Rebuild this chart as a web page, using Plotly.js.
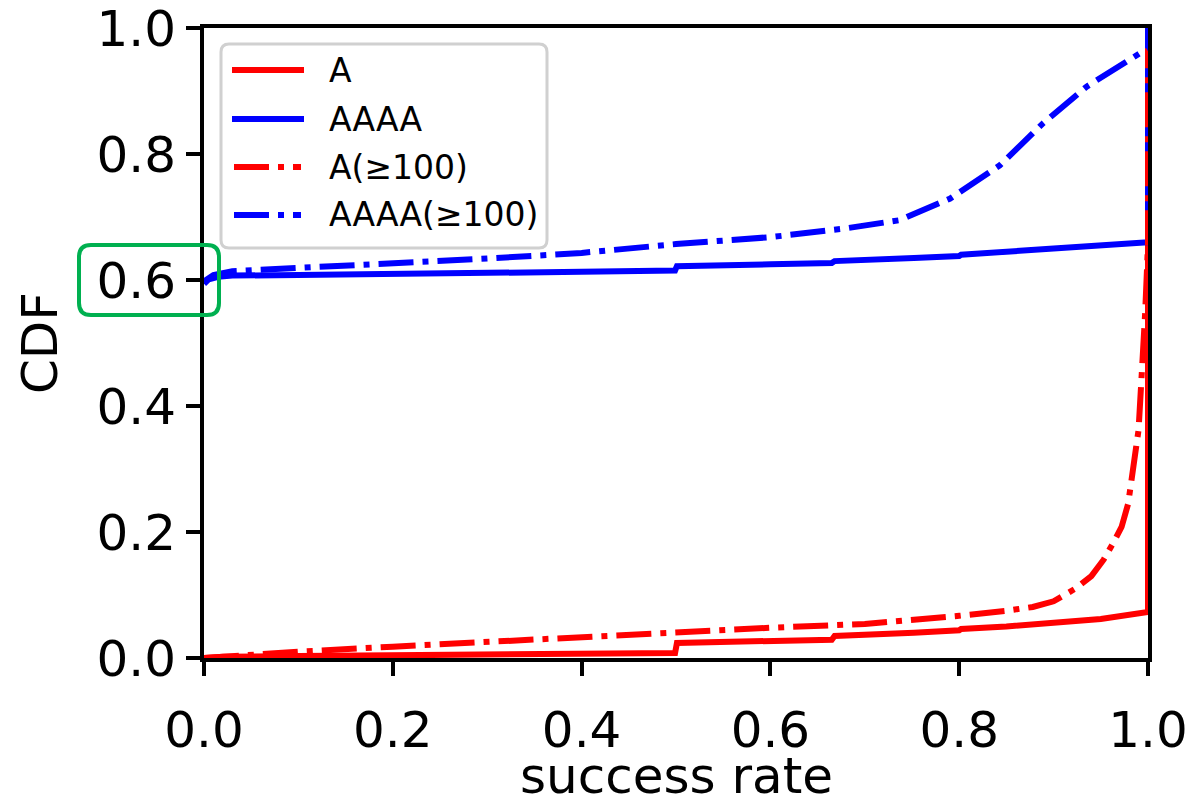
<!DOCTYPE html>
<html>
<head>
<meta charset="utf-8">
<script src="https://cdn.plot.ly/plotly-3.0.1.min.js"></script>
<style>html,body{margin:0;padding:0;background:#fff;}#chart{width:1195px;height:806px;}</style>
</head>
<body>
<div id="chart"></div>
<script>
// ---- data ----
var seriesNames = ["A", "AAAA", "A(\u2265100)", "AAAA(\u2265100)"];

var aX = [0, 0.02, 0.1, 0.2, 0.332, 0.334, 0.4, 0.499, 0.501, 0.6, 0.665, 0.668, 0.75, 0.752, 0.8, 0.802, 0.85, 0.9, 0.95, 1.0, 1.0];
var aY = [0.0, 0.002, 0.003, 0.004, 0.004, 0.006, 0.007, 0.008, 0.024, 0.027, 0.029, 0.035, 0.038, 0.040, 0.044, 0.046, 0.050, 0.055, 0.062, 0.073, 1.0];

var aaaaX = [0, 0.005, 0.015, 0.03, 0.1, 0.2, 0.332, 0.334, 0.4, 0.499, 0.501, 0.6, 0.665, 0.668, 0.75, 0.752, 0.8, 0.802, 0.9, 1.0, 1.0];
var aaaaY = [0.594, 0.601, 0.605, 0.607, 0.608, 0.609, 0.611, 0.612, 0.613, 0.615, 0.622, 0.625, 0.627, 0.630, 0.633, 0.635, 0.638, 0.640, 0.650, 0.660, 1.0];

var a100X = [0, 0.05, 0.1, 0.2, 0.3, 0.4, 0.5, 0.6, 0.7, 0.737, 0.8, 0.85, 0.878, 0.9, 0.924, 0.94, 0.953, 0.963, 0.972, 0.979, 0.984, 0.990, 0.993, 0.995, 0.997, 0.999, 1.0, 1.0];
var a100Y = [0, 0.006, 0.010, 0.018, 0.026, 0.034, 0.041, 0.048, 0.054, 0.058, 0.067, 0.075, 0.081, 0.090, 0.111, 0.130, 0.156, 0.182, 0.208, 0.245, 0.293, 0.362, 0.441, 0.484, 0.548, 0.620, 0.660, 1.0];

var aaaa100X = [0, 0.01, 0.03, 0.1, 0.2, 0.3, 0.4, 0.5, 0.6, 0.68, 0.737, 0.79, 0.843, 0.889, 0.935, 0.963, 0.991, 1.0, 1.0];
var aaaa100Y = [0.598, 0.608, 0.614, 0.619, 0.627, 0.634, 0.643, 0.657, 0.668, 0.682, 0.695, 0.729, 0.782, 0.849, 0.907, 0.933, 0.960, 0.968, 1.0];

var xTicks = [0, 0.2, 0.4, 0.6, 0.8, 1.0];
var yTicks = [0, 0.2, 0.4, 0.6, 0.8, 1.0];
var xTitle = "success rate";
var yTitle = "CDF";

// ---- styling ----
var FONT = "DejaVu Sans, sans-serif";
var LW = 6;
var DASHDOT = "35px,9px,6px,9px";
var colors = ["#ff0000", "#0000ff", "#ff0000", "#0000ff"];
var dashes = ["solid", "solid", DASHDOT, DASHDOT];

var xs = [aX, aaaaX, a100X, aaaa100X];
var ys = [aY, aaaaY, a100Y, aaaa100Y];

var traces = seriesNames.map(function (n, i) {
  return {
    type: "scatter", mode: "lines", name: n,
    x: xs[i], y: ys[i],
    line: {color: colors[i], width: LW, dash: dashes[i]},
    showlegend: false, hoverinfo: "skip"
  };
});

// plot area in pixels
var L = 204, R = 1148, T = 28, B = 658;
function px(p) { return (p - L) / (R - L); }
function py(p) { return (B - p) / (B - T); }

function roundRect(x0p, y0p, x1p, y1p, r) {
  var x0 = px(x0p), x1 = px(x1p), yt = py(y0p), yb = py(y1p);
  var rx = r / (R - L), ry = r / (B - T);
  return "M" + (x0 + rx) + "," + yt +
    " L" + (x1 - rx) + "," + yt +
    " Q" + x1 + "," + yt + " " + x1 + "," + (yt - ry) +
    " L" + x1 + "," + (yb + ry) +
    " Q" + x1 + "," + yb + " " + (x1 - rx) + "," + yb +
    " L" + (x0 + rx) + "," + yb +
    " Q" + x0 + "," + yb + " " + x0 + "," + (yb + ry) +
    " L" + x0 + "," + (yt - ry) +
    " Q" + x0 + "," + yt + " " + (x0 + rx) + "," + yt + " Z";
}

var shapes = [];
var annotations = [];

// legend frame
shapes.push({
  type: "path", xref: "paper", yref: "paper", layer: "above",
  path: roundRect(221, 44, 547, 248, 8),
  fillcolor: "rgba(255,255,255,0.8)",
  line: {color: "#d0d0d0", width: 3}
});
var rowsPx = [70, 119, 167, 215];
seriesNames.forEach(function (n, i) {
  var yy = py(rowsPx[i]);
  shapes.push({
    type: "line", xref: "paper", yref: "paper", layer: "above",
    x0: px(i < 2 ? 232 : 234), x1: px(i < 2 ? 304 : 301), y0: yy, y1: yy,
    line: {color: colors[i], width: LW, dash: dashes[i]}
  });
  annotations.push({
    xref: "paper", yref: "paper", x: px(327), y: yy,
    xanchor: "left", yanchor: "middle", showarrow: false,
    text: n, font: {family: FONT, size: 33, color: "#000"}
  });
});

// x axis title
annotations.push({
  xref: "paper", yref: "paper", x: 0.5, y: py(776),
  xanchor: "center", yanchor: "middle", showarrow: false,
  text: xTitle, font: {family: FONT, size: 50, color: "#000"}
});

// green highlight around the 0.6 tick label
shapes.push({
  type: "path", xref: "paper", yref: "paper", layer: "above",
  path: roundRect(79, 245, 219, 315, 12),
  fillcolor: "rgba(0,0,0,0)",
  line: {color: "#00b050", width: 4}
});

var axisCommon = {
  range: [0, 1], showgrid: false, zeroline: false,
  showline: true, linecolor: "#000", linewidth: 4, mirror: true,
  ticks: "outside", ticklen: 14, tickwidth: 4, tickcolor: "#000",
  tickformat: ".1f",
  ticklabeloverflow: "allow",
  tickfont: {family: FONT, size: 50, color: "#000"},
  fixedrange: true
};

var layout = {
  width: 1195, height: 806,
  margin: {l: L, r: 1195 - R, t: T, b: 806 - B, pad: 0},
  paper_bgcolor: "#fff", plot_bgcolor: "#fff",
  showlegend: false,
  xaxis: Object.assign({}, axisCommon, {
    tickvals: xTicks,
    ticklabelstandoff: 11
  }),
  yaxis: Object.assign({}, axisCommon, {
    tickvals: yTicks,
    title: {text: yTitle, font: {family: FONT, size: 50, color: "#000"}, standoff: 24}
  }),
  shapes: shapes,
  annotations: annotations
};

Plotly.newPlot("chart", traces, layout, {staticPlot: true, displayModeBar: false});
</script>
</body>
</html>
